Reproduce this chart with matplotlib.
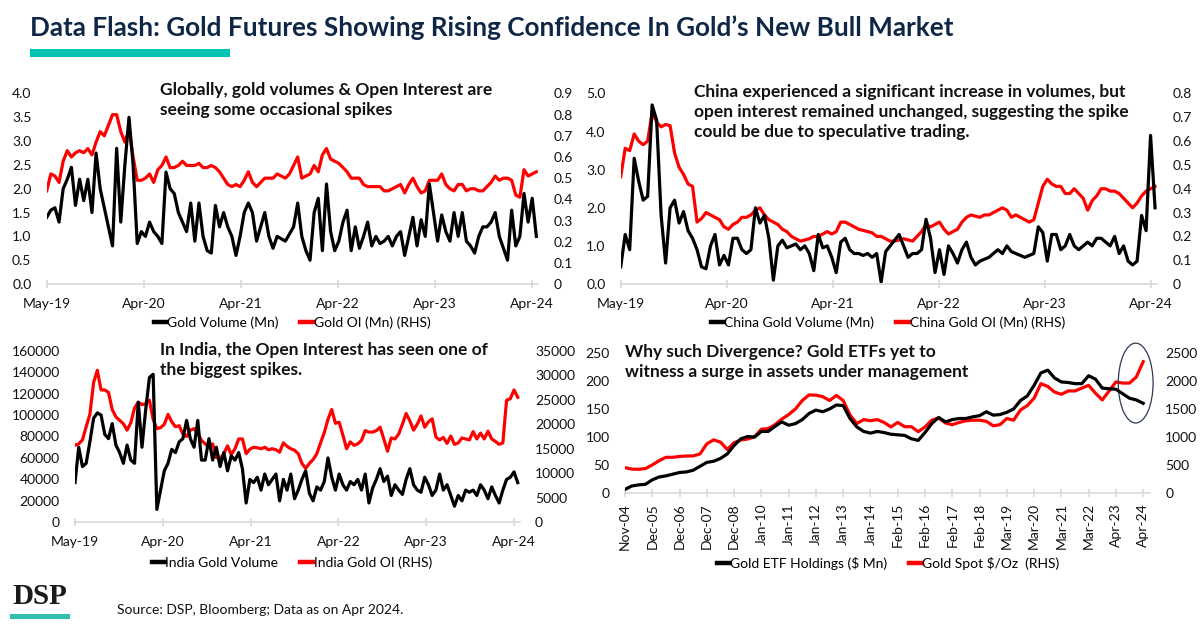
import numpy as np
import matplotlib.pyplot as plt
from matplotlib.patches import Ellipse, Rectangle
from matplotlib.lines import Line2D

plt.rcParams['font.family'] = ['Lato', 'DejaVu Sans']

# ---- data ----
yr_labels = ['May-19', 'Apr-20', 'Apr-21', 'Apr-22', 'Apr-23', 'Apr-24']
etf_labels = ['Nov-04', 'Dec-05', 'Dec-06', 'Dec-07', 'Dec-08', 'Jan-10', 'Jan-11',
              'Jan-12', 'Jan-13', 'Jan-14', 'Feb-15', 'Feb-16', 'Feb-17', 'Feb-18',
              'Mar-19', 'Mar-20', 'Mar-21', 'Mar-22', 'Apr-23', 'Apr-24']

# global gold futures, half-monthly points
gl_vol = [1.4, 1.55, 1.6, 1.3, 2.0, 2.2, 2.45, 1.65, 2.2, 1.75,
          2.2, 1.5, 2.75, 2.0, 1.6, 1.2, 0.8, 2.85, 1.3, 2.5,
          3.5, 2.5, 0.85, 1.1, 1.0, 1.3, 1.1, 1.0, 0.85, 2.35,
          2.0, 1.9, 1.5, 1.3, 1.1, 1.7, 0.9, 1.7, 1.0, 0.7,
          0.65, 1.65, 1.2, 1.5, 1.2, 1.0, 0.6, 1.0, 1.5, 1.7,
          1.5, 0.9, 1.2, 1.5, 1.0, 0.75, 1.0, 0.95, 0.9, 1.05,
          1.2, 1.7, 1.0, 0.7, 0.5, 1.5, 1.8, 0.7, 2.1, 1.1,
          0.7, 0.9, 1.3, 1.55, 0.7, 1.2, 0.75, 1.0, 1.3, 0.8,
          1.0, 0.85, 0.9, 1.0, 0.8, 1.0, 1.1, 0.6, 1.0, 1.4,
          0.8, 1.35, 1.0, 2.1, 1.5, 0.9, 1.45, 1.1, 0.9, 1.5,
          1.0, 1.5, 0.9, 0.8, 0.65, 1.0, 1.2, 1.2, 1.3, 1.5,
          1.0, 0.75, 0.5, 1.55, 0.8, 1.0, 1.9, 1.3, 1.8, 1.0]
gl_oi = [0.44, 0.52, 0.51, 0.48, 0.58, 0.63, 0.6, 0.62, 0.63, 0.62,
         0.64, 0.61, 0.67, 0.72, 0.7, 0.75, 0.8, 0.8, 0.72, 0.67,
         0.73, 0.6, 0.49, 0.49, 0.5, 0.52, 0.48, 0.54, 0.56, 0.6,
         0.55, 0.55, 0.56, 0.58, 0.56, 0.56, 0.56, 0.57, 0.55, 0.55,
         0.56, 0.55, 0.53, 0.5, 0.47, 0.46, 0.47, 0.46, 0.49, 0.53,
         0.48, 0.46, 0.48, 0.5, 0.5, 0.5, 0.52, 0.51, 0.5, 0.52,
         0.56, 0.6, 0.5, 0.51, 0.52, 0.56, 0.53, 0.61, 0.64, 0.59,
         0.58, 0.57, 0.55, 0.53, 0.5, 0.5, 0.5, 0.47, 0.46, 0.46,
         0.46, 0.46, 0.44, 0.44, 0.45, 0.46, 0.47, 0.43, 0.47, 0.5,
         0.46, 0.43, 0.44, 0.49, 0.49, 0.49, 0.52, 0.47, 0.45, 0.44,
         0.47, 0.47, 0.44, 0.45, 0.45, 0.44, 0.44, 0.46, 0.48, 0.51,
         0.49, 0.5, 0.5, 0.49, 0.42, 0.41, 0.54, 0.51, 0.52, 0.53]

# China
cn_vol = [0.45, 1.3, 0.9, 3.3, 2.7, 2.2, 2.3, 4.7, 4.3, 1.8,
          0.55, 2.0, 2.2, 1.6, 1.9, 1.4, 1.2, 0.9, 0.45, 0.4,
          1.0, 1.3, 0.5, 0.75, 0.5, 1.2, 1.2, 0.9, 0.8, 0.9,
          2.0, 1.6, 1.8, 1.2, 0.1, 1.0, 1.15, 0.95, 1.0, 1.05,
          0.9, 1.0, 0.8, 0.35, 1.3, 0.95, 1.0, 0.7, 0.3, 1.1,
          1.2, 0.9, 0.8, 0.8, 0.75, 0.8, 0.7, 0.8, 0.05, 0.85,
          1.0, 1.15, 1.3, 1.0, 0.7, 0.8, 0.8, 0.9, 1.7, 1.2,
          0.3, 0.9, 0.25, 1.0, 0.8, 0.55, 0.9, 1.1, 0.7, 0.5,
          0.6, 0.65, 0.7, 0.8, 0.9, 0.8, 1.0, 0.85, 0.8, 0.75,
          0.7, 0.75, 0.8, 1.5, 1.35, 0.6, 1.3, 1.3, 0.9, 1.0,
          1.3, 1.0, 0.9, 1.0, 1.1, 1.0, 1.2, 1.2, 1.1, 1.0,
          1.25, 0.8, 1.0, 0.6, 0.5, 0.6, 1.8, 1.4, 3.9, 2.0]
cn_oi = [0.45, 0.57, 0.56, 0.63, 0.6, 0.585, 0.6, 0.72, 0.68, 0.66,
         0.67, 0.665, 0.55, 0.49, 0.46, 0.42, 0.41, 0.26, 0.275, 0.3,
         0.29, 0.28, 0.27, 0.24, 0.23, 0.25, 0.26, 0.28, 0.28, 0.29,
         0.31, 0.32, 0.29, 0.27, 0.26, 0.25, 0.23, 0.22, 0.2, 0.19,
         0.18, 0.185, 0.19, 0.2, 0.2, 0.21, 0.22, 0.21, 0.22, 0.26,
         0.26, 0.25, 0.24, 0.23, 0.225, 0.22, 0.215, 0.2, 0.2, 0.19,
         0.18, 0.18, 0.185, 0.19, 0.185, 0.18, 0.2, 0.22, 0.25, 0.24,
         0.25, 0.26, 0.23, 0.21, 0.22, 0.23, 0.26, 0.28, 0.29, 0.285,
         0.28, 0.29, 0.29, 0.3, 0.31, 0.32, 0.31, 0.28, 0.29, 0.28,
         0.27, 0.26, 0.27, 0.34, 0.41, 0.44, 0.42, 0.41, 0.41, 0.38,
         0.38, 0.4, 0.38, 0.36, 0.31, 0.35, 0.37, 0.4, 0.4, 0.39,
         0.39, 0.38, 0.36, 0.34, 0.32, 0.34, 0.37, 0.39, 0.4, 0.41]

# India
in_vol = [37000, 70000, 52000, 55000, 75000, 97000, 102000, 100000, 82000, 78000,
          92000, 72000, 65000, 55000, 72000, 58000, 55000, 112000, 70000, 105000,
          135000, 138000, 12000, 30000, 48000, 55000, 68000, 65000, 75000, 78000,
          95000, 78000, 70000, 95000, 58000, 58000, 78000, 58000, 70000, 52000,
          65000, 48000, 62000, 58000, 65000, 50000, 18000, 40000, 37000, 42000,
          30000, 45000, 35000, 40000, 45000, 20000, 40000, 30000, 45000, 22000,
          30000, 40000, 48000, 27000, 20000, 33000, 30000, 38000, 60000, 42000,
          30000, 45000, 35000, 30000, 38000, 35000, 40000, 30000, 45000, 18000,
          32000, 40000, 50000, 38000, 43000, 25000, 35000, 30000, 26000, 40000,
          50000, 35000, 30000, 28000, 42000, 35000, 25000, 30000, 45000, 30000,
          35000, 25000, 15000, 25000, 20000, 30000, 28000, 30000, 25000, 35000,
          30000, 22000, 33000, 25000, 18000, 30000, 40000, 42000, 47000, 37000]
in_oi = [15700, 16000, 16800, 19500, 22000, 28500, 31000, 27000, 27000, 26500,
         23000, 21500, 20800, 20100, 18800, 20300, 23300, 24500, 24000, 24200,
         24900, 21000, 19100, 19300, 20000, 22000, 20500, 19500, 19700, 18000,
         17500, 18800, 19100, 18100, 16700, 16000, 15300, 16000, 13200, 13000,
         14000, 15600, 13800, 15000, 17000, 17000, 14000, 14900, 15300, 15200,
         15000, 15300, 14800, 15000, 14800, 14300, 16200, 15500, 15000, 14700,
         14000, 12000, 11000, 12000, 12800, 14000, 16200, 18300, 21000, 23000,
         20200, 20400, 17800, 15000, 16400, 15700, 16000, 16700, 18700, 18400,
         18400, 18700, 19400, 17000, 14500, 17200, 17000, 18000, 20000, 22200,
         20700, 18800, 20000, 21700, 19400, 20500, 21100, 17400, 16800, 17300,
         16100, 17600, 15900, 16200, 17200, 17000, 16800, 18500, 17000, 18200,
         17000, 18600, 17000, 16500, 15900, 16200, 24900, 25200, 27000, 25500]

# ETF holdings vs gold spot, quarterly points Nov-04 .. Apr-24
etf_hold = [7, 13, 15, 16, 24, 29, 31, 34, 37, 38,
            41, 48, 55, 57, 62, 70, 85, 97, 101, 100,
            110, 110, 119, 127, 121, 124, 131, 142, 148, 145,
            150, 157, 156, 133, 118, 110, 107, 110, 108, 105,
            104, 103, 97, 94, 108, 124, 135, 127, 131, 133,
            133, 136, 138, 145, 139, 140, 144, 150, 165, 173,
            192, 214, 219, 205, 198, 197, 195, 195, 209, 203,
            187, 186, 185, 177, 169, 166, 160]
gold_spot = [456, 430, 427, 440, 504, 580, 640, 640, 655, 663,
             665, 700, 880, 950, 910, 780, 900, 948, 965, 1005,
             1140, 1150, 1220, 1320, 1400, 1500, 1650, 1750, 1745, 1718,
             1650, 1740, 1650, 1392, 1240, 1310, 1290, 1310, 1260, 1180,
             1260, 1185, 1185, 1096, 1180, 1300, 1340, 1250, 1220, 1260,
             1290, 1300, 1300, 1280, 1200, 1220, 1330, 1300, 1480, 1560,
             1690, 1950, 1900, 1800, 1760, 1820, 1820, 1870, 1920, 1780,
             1660, 1820, 1980, 1960, 1960, 2070, 2340]

W, H = 1200, 628
fig = plt.figure(figsize=(12, 6.28), dpi=100)
fig.patch.set_facecolor('white')

TICK_FS = 10
NOTE_FS = 12.5
AXIS_GREY = '#d9d9d9'


def px_axes(x0, x1, y_top, y_bot):
    return fig.add_axes([x0 / W, 1 - y_bot / H, (x1 - x0) / W, (y_bot - y_top) / H])


def fmt_ticks(vals, fmt):
    # Excel shows a bare "0" at the base of the decimal RHS scales
    return ['0' if v == 0 and fmt == 'zero' else ('{:.1f}'.format(v) if fmt in ('{:.1f}', 'zero') else fmt.format(v))
            for v in vals]


def panel(rect, left, right, lticks, rticks, lfmt, rfmt, xticks, xlabels, xlim,
          names, legend_xy, note, note_xy, rot=0):
    ax = px_axes(*rect)
    ax2 = ax.twinx()
    ax.plot(np.arange(len(left)), left, color='black', lw=2.3, solid_joinstyle='round')
    ax2.plot(np.arange(len(right)), right, color='red', lw=2.3, solid_joinstyle='round')
    ax.set_xlim(*xlim)
    ax.set_ylim(lticks[0], lticks[-1])
    ax2.set_ylim(rticks[0], rticks[-1])
    ax.set_yticks(lticks)
    ax.set_yticklabels(fmt_ticks(lticks, lfmt))
    ax2.set_yticks(rticks)
    ax2.set_yticklabels(fmt_ticks(rticks, rfmt))
    ax.set_xticks(xticks)
    ax.set_xticklabels(xlabels, rotation=rot)
    for a in (ax, ax2):
        for s in ('top', 'left', 'right', 'bottom'):
            a.spines[s].set_visible(False)
        a.tick_params(axis='y', length=0, pad=11, labelsize=TICK_FS, colors='#111111')
    ax.spines['bottom'].set_visible(True)
    ax.spines['bottom'].set_color(AXIS_GREY)
    ax.spines['bottom'].set_linewidth(1.2)
    ax.tick_params(axis='x', direction='inout', length=6, width=1.2, color=AXIS_GREY,
                   pad=7, labelsize=TICK_FS, labelcolor='#111111')
    ax.set_zorder(ax2.get_zorder() + 1)
    ax.patch.set_visible(False)
    handles = [Line2D([], [], color='black', lw=3.2), Line2D([], [], color='red', lw=3.2)]
    fig.legend(handles, names, loc='center', bbox_to_anchor=(legend_xy[0] / W, 1 - legend_xy[1] / H),
               ncol=2, frameon=False, fontsize=TICK_FS, handlelength=0.9, handletextpad=0.05,
               columnspacing=1.6)
    fig.text(note_xy[0] / W, 1 - note_xy[1] / H, note, fontsize=NOTE_FS, fontweight='bold',
             ha='left', va='top', linespacing=1.3, color='#111111')
    return ax, ax2


panel((46.7, 538.4, 93.5, 284), gl_vol, gl_oi,
      np.arange(0, 4.01, 0.5), np.arange(0, 0.91, 0.1), '{:.1f}', 'zero',
      np.linspace(0, 118, 6), yr_labels, (0, 119.5),
      ['Gold Volume (Mn)', 'Gold OI (Mn) (RHS)'], (292, 323),
      'Globally, gold volumes & Open Interest are\nseeing some occasional spikes', (160, 82))

panel((620.7, 1157.3, 93.5, 284), cn_vol, cn_oi,
      np.arange(0, 5.01, 1.0), np.arange(0, 0.81, 0.1), '{:.1f}', 'zero',
      np.linspace(0, 118, 6), yr_labels, (0, 119.5),
      ['China Gold Volume (Mn)', 'China Gold OI (Mn) (RHS)'], (888, 323),
      'China experienced a significant increase in volumes, but\nopen interest remained unchanged, suggesting the spike\ncould be due to speculative trading.', (694, 84))

panel((75, 519.6, 350.7, 522.3), in_vol, in_oi,
      np.arange(0, 160001, 20000), np.arange(0, 35001, 5000), '{:.0f}', '{:.0f}',
      np.linspace(0, 118, 6), yr_labels, (0, 119.5),
      ['India Gold Volume', 'India Gold OI (RHS)'], (292, 563),
      'In India, the Open Interest has seen one of\nthe biggest spikes.', (160, 342))

ax4, ax4r = panel((625, 1150, 352.7, 493.3), etf_hold, gold_spot,
                  np.arange(0, 251, 50), np.arange(0, 2501, 500), '{:.0f}', '{:.0f}',
                  np.arange(0, 77, 4), etf_labels, (0, 77),
                  ['Gold ETF Holdings ($ Mn)', 'Gold Spot $/Oz  (RHS)'], (888, 563),
                  'Why such Divergence? Gold ETFs yet to\nwitness a surge in assets under management', (625, 344),
                  rot=90)
ax4.tick_params(axis='x', pad=4)
ax4.add_patch(Ellipse((74.9, 196), 5.1, 142, fill=False, edgecolor='#2b3a55', lw=0.9, clip_on=False))

# header
fig.text(30 / W, 1 - 28 / H, 'Data Flash: Gold Futures Showing Rising Confidence In Gold\u2019s New Bull Market',
         fontsize=18.8, fontweight='bold', color='#0f2747', ha='left', va='center')
fig.add_artist(Rectangle((30 / W, 1 - 57 / H), 200 / W, 8 / H, transform=fig.transFigure,
                         color='#00c4b3', lw=0))

# footer
fig.text(12 / W, 1 - 597 / H, 'DSP', family='Liberation Serif', fontweight='bold', fontsize=21,
         color='#1a1a1a', ha='left', va='center')
fig.add_artist(Rectangle((10 / W, 1 - 619 / H), 60 / W, 5 / H, transform=fig.transFigure,
                         color='#33bfae', lw=0))
fig.text(117 / W, 1 - 610 / H, 'Source: DSP, Bloomberg; Data as on Apr 2024.', fontsize=10,
         color='#111111', ha='left', va='center')

fig.savefig('out.png', dpi=100)
